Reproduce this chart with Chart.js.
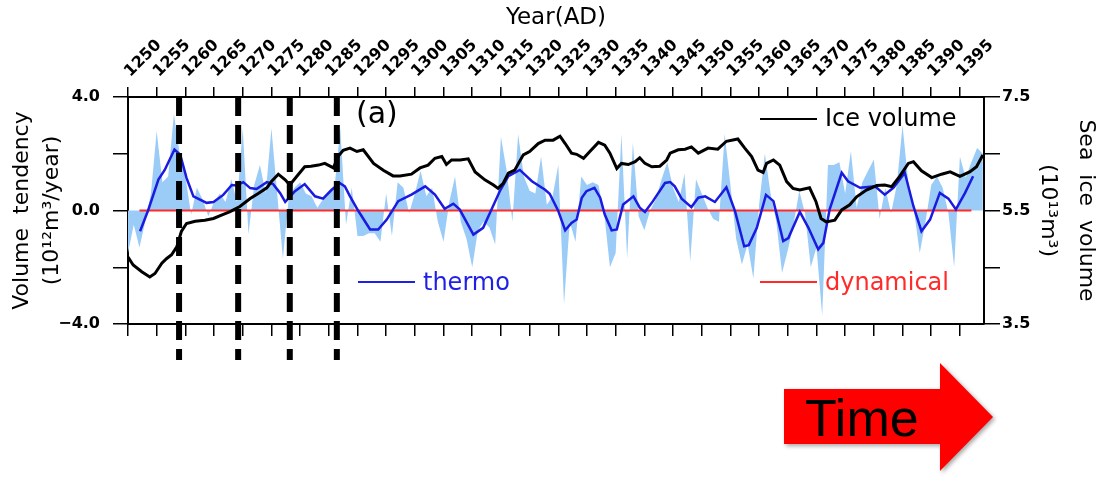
<!DOCTYPE html>
<html>
<head>
<meta charset="utf-8">
<script src="https://cdn.jsdelivr.net/npm/chart.js@4.4.1/dist/chart.umd.min.js"></script>
<style>
  html, body { margin: 0; padding: 0; background: #fff; }
  #wrap { width: 1105px; height: 477px; }
</style>
</head>
<body>
<div id="wrap"><canvas id="volumeChart" width="1105" height="477"></canvas></div>
<script>
// values
var startYear = 1250;
var annualThermo = [
    -1.5, -0.5, -1.3, -0.4, 0.6, 2.8, 1.0, 1.2, 3.4, 2.0,      // 1250-1259
    1.2, -0.15, 0.8, 0.4, -0.2, 0.3, 0.6, 0.3, 1.1, 0.3,       // 1260-1269
    2.9, -0.85, 0.9, 1.6, 0.6, 2.9, 0.6, -1.7, 0.4, 0.8,       // 1270-1279
    1.0, 0.6, 0.5, 0.1, 0.4, 0.6, 0.8, 2.9, -0.5, 0.8,         // 1280-1289
    -0.9, -0.9, -0.8, -0.8, -1.1, 0.6, -0.9, 1.0, 0.8, -0.1,   // 1290-1299
    0.6, 1.4, 0.5, 0.8, -0.4, -1.1, 0.3, 1.2, -0.4, -1.0,      // 1300-1309
    -2.0, -0.7, -0.4, -0.6, -1.2, 2.6, 1.4, -0.4, 2.7, 1.2,    // 1310-1319
    0.7, 0.6, 1.9, 0.2, 0.5, 1.6, -3.3, -0.4, -1.1, 1.2,       // 1320-1329
    0.9, 1.0, 0.9, -0.1, -2.0, -1.5, 2.7, -1.7, 2.4, -0.2,     // 1330-1339
    -0.7, 0.0, 0.4, 1.1, 1.7, 0.8, 0.3, 1.3, -1.8, 1.1,        // 1340-1349
    0.6, 0.1, -0.3, -0.4, 2.7, 0.9, -1.0, -1.9, -1.2, -2.4,    // 1350-1359
    0.2, 2.0, 0.6, -0.4, -2.2, -1.4, -0.5, 0.7, -0.1, -2.0,    // 1360-1369
    -1.3, -3.7, 1.6, 1.6, 1.7, 0.6, 2.1, 0.1, 1.0, 1.4,        // 1370-1379
    1.8, -0.3, 0.8, -0.1, 0.9, 3.0, 1.0, 0.0, -1.5, -0.4,      // 1380-1389
    0.9, 1.2, 0.8, -0.1, -2.0, 1.9, 1.15, 1.7, 2.2, 2.0        // 1390-1399
];

var thermoYears = [
    1252.1, 1253.5, 1255.3, 1256.4, 1258.1, 1259.1, 1260.2, 1261.4, 1263.7, 1264.9,
    1266.6, 1268.1, 1268.9, 1270.1, 1271.3, 1272.4, 1274.2, 1275.3, 1276.5, 1277.4,
    1279.1, 1280.8, 1282.6, 1284.0, 1285.5, 1286.9, 1287.8, 1288.7, 1290.1, 1292.2,
    1293.6, 1295.1, 1297.1, 1299.4, 1301.8, 1303.5, 1305.2, 1306.7, 1307.8, 1310.2,
    1311.9, 1313.1, 1314.8, 1316.3, 1318.3, 1320.4, 1322.7, 1323.5, 1325.0, 1326.2,
    1327.3, 1328.2, 1329.1, 1329.9, 1331.3, 1332.3, 1333.1, 1334.3, 1335.2, 1336.3,
    1338.1, 1339.2, 1340.1, 1341.5, 1343.6, 1344.5, 1345.3, 1346.5, 1348.2, 1349.4,
    1350.6, 1352.3, 1354.3, 1355.8, 1357.4, 1358.2, 1359.6, 1361.2, 1362.5, 1364.2,
    1365.1, 1367.1, 1368.6, 1370.3, 1371.2, 1372.3, 1374.4, 1375.5, 1377.6, 1380.2,
    1381.9, 1383.4, 1385.4, 1386.9, 1388.3, 1389.8, 1391.5, 1393.0, 1394.3, 1395.9,
    1397.3
];
var thermoSmooth = [
    -0.73, 0.0, 1.09, 1.43, 2.15, 1.97, 1.15, 0.5, 0.27, 0.3,
    0.55, 0.9, 0.88, 1.0, 0.79, 0.76, 1.0, 0.93, 0.62, 0.3,
    0.68, 0.93, 0.5, 0.42, 0.73, 0.97, 0.85, 0.5, 0.0, -0.67,
    -0.67, -0.32, 0.33, 0.56, 0.85, 0.56, 0.06, 0.24, 0.04, -0.85,
    -0.61, -0.08, 0.68, 1.21, 1.43, 1.03, 0.73, 0.59, -0.02, -0.7,
    -0.44, -0.32, 0.45, 0.68, 0.8, 0.45, -0.14, -0.7, -0.67, 0.21,
    0.5, 0.1, -0.05, 0.33, 0.97, 1.0, 0.85, 0.42, 0.12, 0.45,
    0.5, 0.3, 0.82, -0.02, -1.26, -1.22, -0.61, 0.55, 0.33, -1.08,
    -0.97, -0.05, -0.61, -1.37, -1.14, 0.04, 1.33, 1.03, 0.8, 0.85,
    0.56, 0.8, 1.33, 0.15, -0.73, -0.32, 0.62, 0.42, 0.04, 0.62,
    1.21
];

var iceYears = [
    1250.0, 1250.9, 1252.4, 1253.8, 1254.7, 1255.9, 1256.7, 1257.6, 1258.5, 1259.3,
    1260.2, 1261.7, 1263.4, 1264.9, 1266.3, 1267.8, 1269.5, 1271.3, 1272.7, 1274.2,
    1275.0, 1276.2, 1277.4, 1278.2, 1279.4, 1280.8, 1281.9, 1283.2, 1284.3, 1285.8,
    1286.6, 1287.5, 1288.7, 1289.9, 1291.0, 1292.8, 1294.5, 1296.2, 1297.4, 1299.4,
    1300.9, 1302.3, 1303.5, 1304.7, 1305.5, 1306.4, 1307.9, 1309.3, 1310.5, 1312.2,
    1313.7, 1314.5, 1315.4, 1316.3, 1317.4, 1318.9, 1320.0, 1321.5, 1322.7, 1324.1,
    1325.3, 1326.2, 1327.3, 1328.2, 1329.4, 1330.5, 1332.0, 1333.1, 1334.0, 1335.2,
    1336.0, 1337.2, 1338.4, 1339.2, 1340.1, 1341.3, 1342.7, 1343.9, 1344.5, 1345.9,
    1347.1, 1348.2, 1349.4, 1351.1, 1352.8, 1354.3, 1356.3, 1357.5, 1358.7, 1359.8,
    1360.7, 1361.3, 1362.5, 1363.6, 1364.8, 1365.9, 1367.1, 1368.8, 1369.9, 1370.8,
    1371.7, 1373.2, 1374.4, 1375.8, 1377.0, 1378.7, 1380.5, 1381.9, 1383.1, 1384.5,
    1386.0, 1386.9, 1388.3, 1390.1, 1391.8, 1393.3, 1395.0, 1396.7, 1397.9, 1399.0
];
var iceVolume = [
    4.68, 4.54, 4.42, 4.33, 4.39, 4.57, 4.65, 4.72, 4.86, 5.13,
    5.27, 5.31, 5.33, 5.36, 5.42, 5.48, 5.57, 5.71, 5.80, 5.90,
    6.01, 6.14, 6.04, 5.95, 6.10, 6.27, 6.28, 6.30, 6.33, 6.25,
    6.45, 6.56, 6.60, 6.54, 6.57, 6.33, 6.21, 6.11, 6.11, 6.14,
    6.25, 6.30, 6.42, 6.45, 6.31, 6.39, 6.39, 6.41, 6.18, 6.04,
    5.95, 5.89, 5.98, 6.16, 6.21, 6.48, 6.54, 6.68, 6.74, 6.74,
    6.81, 6.68, 6.51, 6.49, 6.42, 6.54, 6.70, 6.65, 6.51, 6.24,
    6.33, 6.31, 6.36, 6.43, 6.33, 6.27, 6.28, 6.39, 6.51, 6.57,
    6.58, 6.62, 6.51, 6.60, 6.58, 6.72, 6.76, 6.60, 6.45, 6.21,
    6.17, 6.33, 6.39, 6.30, 6.01, 5.89, 5.86, 5.90, 5.66, 5.36,
    5.30, 5.33, 5.51, 5.60, 5.74, 5.86, 5.94, 5.95, 5.92, 6.10,
    6.33, 6.36, 6.20, 6.08, 6.14, 6.18, 6.10, 6.18, 6.27, 6.48
];

var dynYears = [1252, 1397];
var dynValues = [0, 0];

var eventYears = [1258.9, 1269.2, 1278.2, 1286.4];

var yearTicks = [1250, 1255, 1260, 1265, 1270, 1275, 1280, 1285, 1290, 1295,
    1300, 1305, 1310, 1315, 1320, 1325, 1330, 1335, 1340, 1345,
    1350, 1355, 1360, 1365, 1370, 1375, 1380, 1385, 1390, 1395];
var leftTicks = [-4, -2, 0, 2, 4];
var leftTickLabels = ['\u22124.0', '', '0.0', '', '4.0'];
var rightTicks = [3.5, 4.5, 5.5, 6.5, 7.5];
var rightTickLabels = ['3.5', '', '5.5', '', '7.5'];

function pairs(xs, ys) {
    return xs.map(function (x, i) { return { x: x, y: ys[i] }; });
}

var annualPoints = annualThermo.map(function (v, i) { return { x: startYear + i, y: v }; });

Chart.defaults.font.family = '"DejaVu Sans", sans-serif';
Chart.defaults.color = '#000';

var blackGrid = { drawOnChartArea: false, color: '#000', lineWidth: 1.5 };
var blackBorder = { color: '#000', width: 2 };
var tickFont = { size: 16, weight: 'bold' };

// dashed event lines, in-plot legend, panel tag and the Time arrow
var decorations = {
    id: 'decorations',
    afterDatasetsDraw: function (chart) {
        var ctx = chart.ctx;
        var area = chart.chartArea;
        var xs = chart.scales.x;
        ctx.save();

        ctx.strokeStyle = '#000';
        ctx.lineWidth = 6;
        ctx.setLineDash([19, 9]);
        eventYears.forEach(function (yr) {
            var px = xs.getPixelForValue(yr);
            ctx.beginPath();
            ctx.moveTo(px, area.top);
            ctx.lineTo(px, area.bottom + 36);
            ctx.stroke();
        });
        ctx.setLineDash([]);

        ctx.font = '24px "DejaVu Sans"';
        ctx.textBaseline = 'alphabetic';
        ctx.textAlign = 'left';
        var legendItems = [
            { x: 760, y: 119, text: 'Ice volume', color: '#000', base: 126 },
            { x: 358, y: 282, text: 'thermo', color: '#1f1fe6', base: 290 },
            { x: 760, y: 282, text: 'dynamical', color: '#ff2a2a', base: 290 }
        ];
        legendItems.forEach(function (item) {
            ctx.strokeStyle = item.color;
            ctx.lineWidth = 2;
            ctx.beginPath();
            ctx.moveTo(item.x, item.y);
            ctx.lineTo(item.x + 57, item.y);
            ctx.stroke();
            ctx.fillStyle = item.color;
            ctx.fillText(item.text, item.x + 65, item.base);
        });

        ctx.fillStyle = '#000';
        ctx.font = '30px "DejaVu Sans"';
        ctx.textBaseline = 'middle';
        ctx.fillText('(a)', 356, 115);

        // Time arrow
        ctx.shadowColor = 'rgba(0,0,0,0.35)';
        ctx.shadowBlur = 4;
        ctx.shadowOffsetX = 2;
        ctx.shadowOffsetY = 2;
        ctx.fillStyle = '#ff0000';
        ctx.beginPath();
        ctx.moveTo(784, 389);
        ctx.lineTo(940, 389);
        ctx.lineTo(940, 363);
        ctx.lineTo(993, 417);
        ctx.lineTo(940, 471);
        ctx.lineTo(940, 444);
        ctx.lineTo(784, 444);
        ctx.closePath();
        ctx.fill();
        ctx.shadowColor = 'rgba(0,0,0,0)';
        ctx.fillStyle = '#000';
        ctx.font = '52px "Liberation Sans"';
        ctx.textBaseline = 'alphabetic';
        ctx.fillText('Time', 805, 436);

        ctx.restore();
    }
};

var ctx = document.getElementById('volumeChart').getContext('2d');

new Chart(ctx, {
    type: 'line',
    data: {
        datasets: [{
            label: 'annual thermo',
            data: annualPoints,
            xAxisID: 'x',
            yAxisID: 'y',
            borderWidth: 0,
            borderColor: 'rgba(0,0,0,0)',
            backgroundColor: 'rgb(155, 204, 247)',
            fill: 'origin',
            pointRadius: 0,
            order: 4
        }, {
            label: 'dynamical',
            data: pairs(dynYears, dynValues),
            xAxisID: 'x',
            yAxisID: 'y',
            borderColor: '#ff2a2a',
            borderWidth: 2,
            fill: false,
            pointRadius: 0,
            order: 3
        }, {
            label: 'thermo',
            data: pairs(thermoYears, thermoSmooth),
            xAxisID: 'x',
            yAxisID: 'y',
            borderColor: '#1a1ae0',
            borderWidth: 2.5,
            fill: false,
            pointRadius: 0,
            order: 2
        }, {
            label: 'Ice volume',
            data: pairs(iceYears, iceVolume),
            xAxisID: 'x',
            yAxisID: 'yR',
            borderColor: '#000',
            borderWidth: 3,
            fill: false,
            pointRadius: 0,
            order: 1
        }]
    },
    options: {
        responsive: false,
        animation: false,
        events: [],
        layout: { padding: 0 },
        plugins: {
            legend: { display: false },
            tooltip: { enabled: false }
        },
        scales: {
            x: {
                type: 'linear',
                position: 'bottom',
                min: 1250,
                max: 1399.2,
                afterBuildTicks: function (scale) {
                    scale.ticks = yearTicks.map(function (v) { return { value: v }; });
                },
                ticks: { display: false },
                grid: Object.assign({ tickLength: 12 }, blackGrid),
                border: blackBorder,
                afterFit: function (scale) { scale.height = 153; }
            },
            xTop: {
                type: 'linear',
                position: 'top',
                min: 1250,
                max: 1399.2,
                afterBuildTicks: function (scale) {
                    scale.ticks = yearTicks.map(function (v) { return { value: v }; });
                },
                ticks: {
                    autoSkip: false,
                    minRotation: 45,
                    maxRotation: 45,
                    padding: 6,
                    labelOffset: 13,
                    font: tickFont,
                    callback: function (value) { return String(value); }
                },
                grid: Object.assign({ tickLength: 10 }, blackGrid),
                border: blackBorder,
                title: {
                    display: true,
                    text: 'Year(AD)',
                    font: { size: 23 },
                    padding: { top: 4, bottom: 0 }
                },
                afterFit: function (scale) { scale.height = 97; }
            },
            y: {
                position: 'left',
                min: -4,
                max: 4,
                afterBuildTicks: function (scale) {
                    scale.ticks = leftTicks.map(function (v) { return { value: v }; });
                },
                ticks: {
                    padding: 13,
                    font: tickFont,
                    callback: function (value) { return leftTickLabels[leftTicks.indexOf(value)]; }
                },
                grid: Object.assign({ tickLength: 15 }, blackGrid),
                border: blackBorder,
                title: {
                    display: true,
                    text: ['Volume  tendency', '(10\u00b9\u00b2m\u00b3/year)'],
                    font: { size: 22, lineHeight: 1.36 },
                    padding: { top: 7, bottom: 0 }
                },
                afterFit: function (scale) { scale.width = 128; }
            },
            yR: {
                position: 'right',
                min: 3.5,
                max: 7.5,
                afterBuildTicks: function (scale) {
                    scale.ticks = rightTicks.map(function (v) { return { value: v }; });
                },
                ticks: {
                    padding: 2,
                    font: tickFont,
                    callback: function (value) { return rightTickLabels[rightTicks.indexOf(value)]; }
                },
                grid: Object.assign({ tickLength: 16 }, blackGrid),
                border: blackBorder,
                title: {
                    display: true,
                    text: ['Sea  ice  volume', '(10\u00b9\u00b3m\u00b3)'],
                    font: { size: 22, lineHeight: 1.73 },
                    padding: { top: 0, bottom: 0 }
                },
                afterFit: function (scale) { scale.width = 121; }
            }
        }
    },
    plugins: [decorations]
});
</script>
</body>
</html>
